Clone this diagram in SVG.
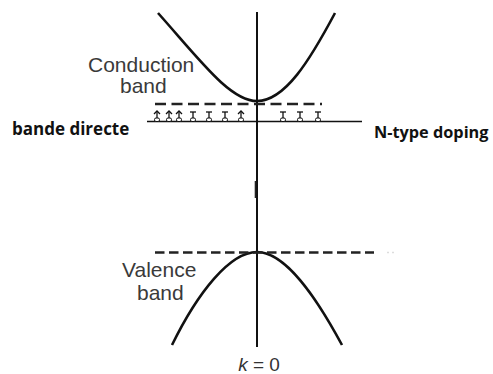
<svg xmlns="http://www.w3.org/2000/svg" width="493" height="374" viewBox="0 0 493 374">
<style>
.lbl{font-family:"Liberation Sans",Arial,sans-serif;font-size:21px;fill:#3a3a3a}
.bold{font-family:"Open Sans","Liberation Sans",sans-serif;font-weight:700;font-size:17px;fill:#111}
.curve{fill:none;stroke:#111;stroke-width:2.6}
.dash{fill:none;stroke:#222;stroke-width:2.6}
</style>
<defs>
<g id="donorT">
<line x1="0" y1="112" x2="0" y2="119" stroke="#111" stroke-width="1.3"/>
<line x1="-3" y1="112" x2="3" y2="112" stroke="#111" stroke-width="1.3"/>
<rect x="-2.5" y="118" width="5" height="3.5" rx="1.5" fill="#fff" stroke="#111" stroke-width="1"/>
</g>
<g id="donorA">
<line x1="0" y1="111" x2="0" y2="119" stroke="#111" stroke-width="1.3"/>
<polyline points="-3,114 0,111 3,114" fill="none" stroke="#111" stroke-width="1.3"/>
<rect x="-2.5" y="118" width="5" height="3.5" rx="1.5" fill="#fff" stroke="#111" stroke-width="1"/>
</g>
</defs>
<rect width="493" height="374" fill="#fff"/>
<g id="labels">
<text class="lbl" x="88" y="72">Conduction</text>
<text class="lbl" x="120" y="93">band</text>
<text class="lbl" x="122" y="277">Valence</text>
<text class="lbl" x="137" y="300">band</text>
</g>
<g id="connectors">
<line x1="257" y1="12" x2="257" y2="347" stroke="#111" stroke-width="2"/>
<line x1="255.5" y1="181" x2="255.5" y2="198" stroke="#222" stroke-width="1.6"/>
<path class="curve" d="M158,13 C200,60 230,101 257,101 C285,101 310,60 335,13"/>
<path class="curve" d="M172,345 C198,292 230,252 257,252 C285,252 315,295 342,345"/>
<line class="dash" x1="155" y1="104" x2="322" y2="104" stroke-dasharray="11 5.5"/>
<line class="dash" x1="155" y1="252.5" x2="374" y2="252.5" stroke-dasharray="9.5 4.5"/>
<line x1="387" y1="252.5" x2="389" y2="252.5" stroke="#ddd" stroke-width="1.5"/>
<line x1="392" y1="252.5" x2="394" y2="252.5" stroke="#ddd" stroke-width="1.5"/>
<line x1="147" y1="121.5" x2="362" y2="121.5" stroke="#111" stroke-width="1.3"/>
</g>
<g id="donors">
<use href="#donorA" x="157"/>
<use href="#donorA" x="169"/>
<use href="#donorA" x="179"/>
<use href="#donorT" x="193"/>
<use href="#donorT" x="209"/>
<use href="#donorT" x="225"/>
<use href="#donorA" x="241"/>
<use href="#donorT" x="283"/>
<use href="#donorT" x="300"/>
<use href="#donorT" x="318"/>
</g>
<g id="side-labels">
<text class="bold" x="12" y="135">bande directe</text>
<text class="bold" x="374" y="138" style="font-size:16.3px">N-type doping</text>
</g>
<g id="k-label">
<text x="259" y="371" text-anchor="middle" style="font-family:'Liberation Sans',Arial,sans-serif;font-size:19px;fill:#333"><tspan font-style="italic">k</tspan> = 0</text>
</g>
</svg>
